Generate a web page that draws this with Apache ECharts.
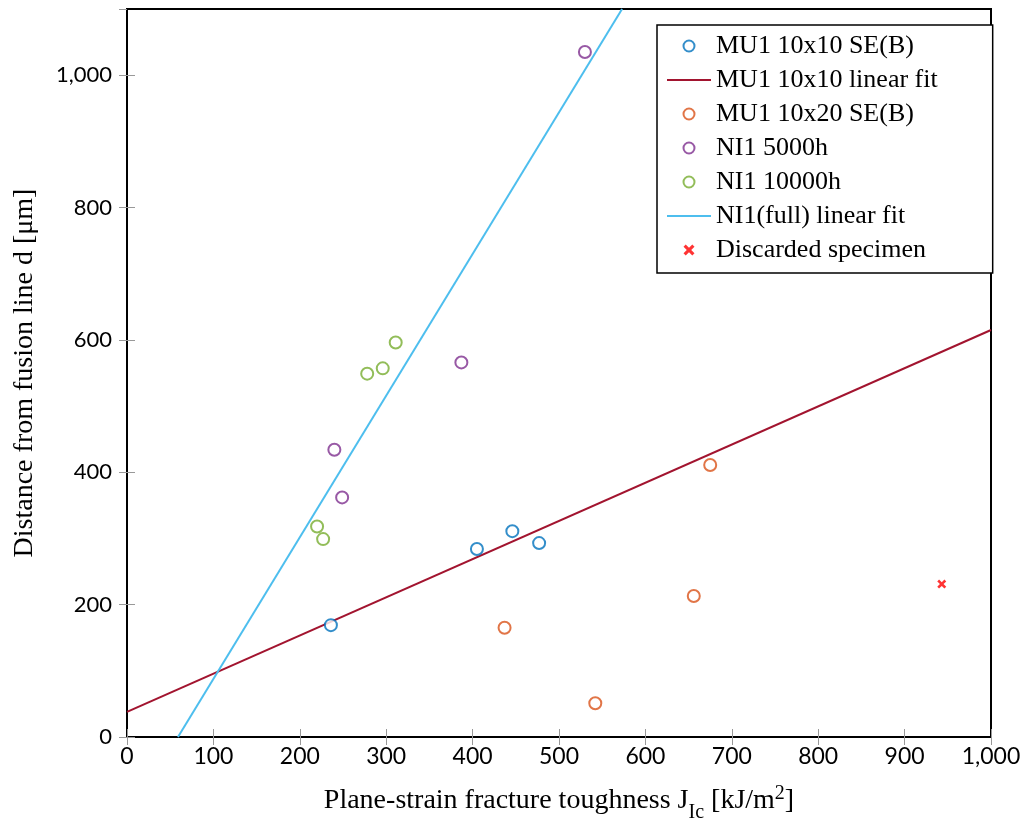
<!DOCTYPE html>
<html>
<head>
<meta charset="utf-8">
<script src="https://cdn.jsdelivr.net/npm/echarts@6/dist/echarts.min.js"></script>
<style>
  html, body { margin: 0; padding: 0; background: #fff; }
  #chart { width: 1025px; height: 823px; }
</style>
</head>
<body>
<div id="chart"></div>
<script>
// Measured specimens: [J_Ic (kJ/m^2), distance from fusion line (µm)]
const mu1_10x10 = [[236, 169], [405, 284], [446, 311], [477, 293]];
const mu1_10x20 = [[437, 165], [542, 51], [656, 213], [675, 411]];
const ni1_5000h = [[240, 434], [249, 362], [387, 566], [530, 1035]];
const ni1_10000h = [[220, 318], [227, 299], [278, 549], [296, 557], [311, 596]];
const discarded = [[943, 231]];

// Linear fits, given by their end points
const mu1_fit = [[0, 38], [1000, 615]];
const ni1_fit = [[59, 0], [573, 1100]];

const xTicks = [0, 100, 200, 300, 400, 500, 600, 700, 800, 900, 1000];
const yTicks = [0, 200, 400, 600, 800, 1000];

const SERIF = '"Liberation Serif", "DejaVu Serif", serif';
const SANS = 'Lato, "Open Sans", sans-serif';
const fmt = v => v >= 1000 ? Math.floor(v / 1000) + ',' + String(v % 1000).padStart(3, '0') : String(v);

const chart = echarts.init(document.getElementById('chart'), null, { renderer: 'canvas' });

const crossPath = 'path://M0,2 L2,0 L5,3 L8,0 L10,2 L7,5 L10,8 L8,10 L5,7 L2,10 L0,8 L3,5 Z';
const lineIcon = 'path://M0,0 L44,0 L44,2 L0,2 Z';

function scatter(name, data, color) {
  return {
    name, type: 'scatter', data,
    symbol: 'emptyCircle', symbolSize: 12,
    itemStyle: { color: color, borderColor: color, borderWidth: 2.2 },
    emphasis: { disabled: true }, z: 5
  };
}
function fit(name, data, color) {
  return {
    name, type: 'line', data, symbol: 'none', showSymbol: false,
    lineStyle: { color, width: 2 }, itemStyle: { color },
    emphasis: { disabled: true }, clip: true, z: 3
  };
}

const tickStyle = { show: true, inside: true, length: 8, lineStyle: { color: '#999', width: 1 } };

chart.setOption({
  animation: false,
  backgroundColor: '#fff',
  textStyle: { fontFamily: SERIF },
  grid: {
    left: 127, right: 34, top: 9, bottom: 86,
    outerBoundsMode: 'none', containLabel: false,
    show: true, borderColor: '#000', borderWidth: 2, backgroundColor: 'transparent'
  },
  legend: {
    orient: 'vertical', left: 657, top: 25,
    padding: [8, 55, 10, 10],
    itemWidth: 44, itemHeight: 11, itemGap: 8,
    backgroundColor: '#fff', borderColor: '#000', borderWidth: 1.5,
    textStyle: { fontFamily: SERIF, fontSize: 26, color: '#000', lineHeight: 25 },
    data: [
      { name: 'MU1 10x10 SE(B)' },
      { name: 'MU1 10x10 linear fit', icon: lineIcon },
      { name: 'MU1 10x20 SE(B)' },
      { name: 'NI1 5000h' },
      { name: 'NI1 10000h' },
      { name: 'NI1(full) linear fit', icon: lineIcon },
      { name: 'Discarded specimen' }
    ]
  },
  xAxis: [{
    type: 'value', min: xTicks[0], max: xTicks[xTicks.length - 1], interval: 100,
    splitLine: { show: false },
    axisLine: { show: true, lineStyle: { color: '#000', width: 2 } },
    axisTick: tickStyle,
    axisLabel: { color: '#000', fontSize: 23, margin: 8, fontFamily: SANS, formatter: fmt },
    name: '{n|Plane-strain fracture toughness J}{s|Ic}{n| [kJ/m}{p|2}{n|]}',
    nameLocation: 'middle', nameGap: 47,
    nameTextStyle: {
      rich: {
        n: { fontSize: 28, color: '#000', fontFamily: SERIF, verticalAlign: 'bottom' },
        s: { fontSize: 20, color: '#000', fontFamily: SERIF, padding: [0, 0, -8, 0], verticalAlign: 'bottom' },
        p: { fontSize: 20, color: '#000', fontFamily: SERIF, padding: [0, 0, 11, 0], verticalAlign: 'bottom' }
      }
    }
  }, {
    type: 'value', position: 'top', min: 0, max: 1000, interval: 100,
    splitLine: { show: false }, axisLabel: { show: false },
    axisLine: { show: true, lineStyle: { color: '#000', width: 2 } },
    axisTick: tickStyle
  }],
  yAxis: [{
    type: 'value', min: yTicks[0], max: 1100, interval: 200,
    splitLine: { show: false },
    axisLine: { show: true, lineStyle: { color: '#000', width: 2 } },
    axisTick: tickStyle,
    axisLabel: { color: '#000', fontSize: 22, margin: 15, fontFamily: SANS, formatter: fmt, showMaxLabel: false },
    name: 'Distance from fusion line d [μm]',
    nameLocation: 'middle', nameGap: 88, nameRotate: 90,
    nameTextStyle: { fontSize: 28, color: '#000', fontFamily: SERIF }
  }, {
    type: 'value', position: 'right', min: 0, max: 1100, interval: 200,
    splitLine: { show: false }, axisLabel: { show: false },
    axisLine: { show: true, lineStyle: { color: '#000', width: 2 } },
    axisTick: tickStyle
  }],
  series: [
    scatter('MU1 10x10 SE(B)', mu1_10x10, '#0072BD'),
    fit('MU1 10x10 linear fit', mu1_fit, '#A2142F'),
    scatter('MU1 10x20 SE(B)', mu1_10x20, '#D95319'),
    scatter('NI1 5000h', ni1_5000h, '#7E2F8E'),
    scatter('NI1 10000h', ni1_10000h, '#77AC30'),
    fit('NI1(full) linear fit', ni1_fit, '#4DBEEE'),
    {
      name: 'Discarded specimen', type: 'scatter', data: discarded,
      symbol: crossPath, symbolSize: 9,
      itemStyle: { color: '#FF0000' }, emphasis: { disabled: true }, z: 5
    }
  ]
});
</script>
</body>
</html>
